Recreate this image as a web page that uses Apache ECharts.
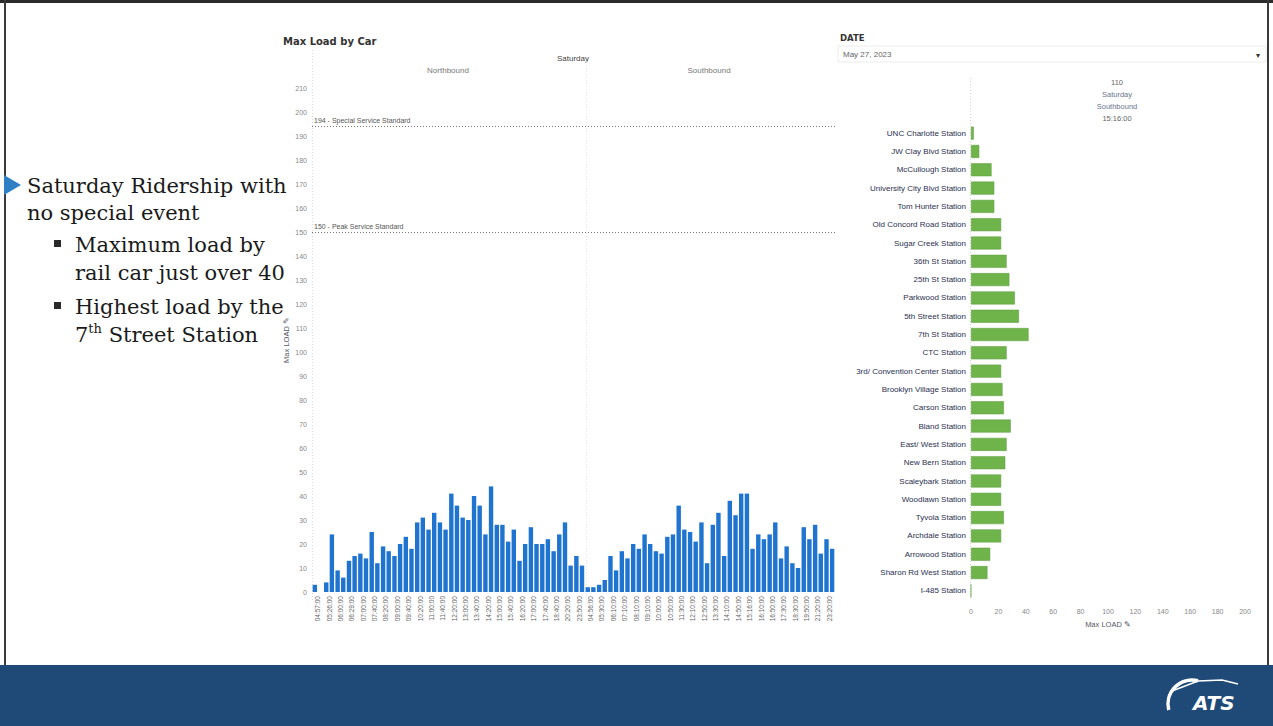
<!DOCTYPE html>
<html>
<head>
<meta charset="utf-8">
<script src="https://cdn.jsdelivr.net/npm/echarts@6.0.0/dist/echarts.min.js"></script>
<style>
html,body{margin:0;padding:0;background:#fff;}
#c{width:1273px;height:726px;}
</style>
</head>
<body>
<div id="c"></div>
<script>
// Trip start times, per direction
const northTimes = ['04:57:00','05:26:00','06:00:00','06:29:00','07:00:00','07:40:00','08:20:00','09:00:00',
  '09:40:00','10:20:00','11:00:00','11:40:00','12:20:00','13:00:00','13:40:00','14:20:00',
  '15:00:00','15:40:00','16:20:00','17:00:00','17:40:00','18:40:00','20:20:00','23:50:00'];
const southTimes = ['04:56:00','05:30:00','06:10:00','07:10:00','08:10:00','09:10:00','10:00:00','10:50:00',
  '11:30:00','12:10:00','12:50:00','13:30:00','14:10:00','14:50:00','15:16:00','16:10:00',
  '16:50:00','17:30:00','18:30:00','19:50:00','21:20:00','23:20:00'];

// Max load of the two cars on each trip
const northCarA = [3,4,9,13,16,25,19,15,23,29,26,29,41,31,40,24,28,21,13,27,20,17,29,15];
const northCarB = [null,24,6,15,14,12,17,20,18,31,33,26,36,30,36,44,28,26,20,20,22,24,11,11];
const southCarA = [2,3,15,17,20,24,17,23,36,25,29,28,15,32,41,24,24,14,12,27,28,22];
const southCarB = [2,5,9,14,18,20,16,24,26,21,12,33,38,41,18,22,29,19,10,22,16,18];

// Service standards
const specialStandard = 194;
const peakStandard = 150;

// Station loads for train 110, Saturday southbound 15:16:00
const stations = ['UNC Charlotte Station','JW Clay Blvd Station','McCullough Station','University City Blvd Station',
  'Tom Hunter Station','Old Concord Road Station','Sugar Creek Station','36th St Station','25th St Station',
  'Parkwood Station','5th Street Station','7th St Station','CTC Station','3rd/ Convention Center Station',
  'Brooklyn Village Station','Carson Station','Bland Station','East/ West Station','New Bern Station',
  'Scaleybark Station','Woodlawn Station','Tyvola Station','Archdale Station','Arrowood Station',
  'Sharon Rd West Station','I-485 Station'];
const stationLoads = [2,6,15,17,17,22,22,26,28,32,35,42,26,22,23,24,29,26,25,22,22,24,22,14,12,0];

const categories = northTimes.concat(southTimes);
const carA = northCarA.concat(southCarA);
const carB = northCarB.concat(southCarB);

const chart = echarts.init(document.getElementById('c'), null, {renderer: 'svg'});

const serif = '"DejaVu Serif", "Liberation Serif", serif';
const sans = '"Liberation Sans", Arial, sans-serif';
const blue = '#1f74cf';
const green = '#6fb44b';

function txt(text, x, y, font, fill, align, extra) {
  return Object.assign({
    type: 'text', silent: true,
    style: { text: text, x: x, y: y, font: font, fill: fill,
             textAlign: align || 'left', textVerticalAlign: 'middle' }
  }, extra || {});
}

const graphics = [
  // slide frame
  {type: 'rect', shape: {x: 0, y: 0, width: 1273, height: 3}, style: {fill: '#2b2b2b'}, silent: true},
  {type: 'rect', shape: {x: 4, y: 0, width: 2, height: 666}, style: {fill: '#3a3a3a'}, silent: true},
  {type: 'rect', shape: {x: 1267, y: 0, width: 2, height: 666}, style: {fill: '#3a3a3a'}, silent: true},
  // bottom banner
  {type: 'rect', shape: {x: 0, y: 665, width: 1273, height: 61}, style: {fill: '#1f4a77'}, silent: true},
  // logo
  {type: 'arc', shape: {cx: 1192, cy: 704, r: 24, startAngle: Math.PI * 0.92, endAngle: Math.PI * 1.58},
   style: {stroke: '#ffffff', lineWidth: 3.5, fill: null}, silent: true},
  {type: 'polyline', shape: {points: [[1172, 691], [1198, 681], [1222, 680], [1238, 684]]},
   style: {stroke: '#ffffff', lineWidth: 1.6, fill: null}, silent: true},
  txt('ATS', 1193, 703, 'italic bold 20px "DejaVu Sans", sans-serif', '#ffffff', 'left'),

  // bullets
  {type: 'polygon', shape: {points: [[4, 175], [21, 185], [4, 195]]}, style: {fill: '#2f7fc4'}, silent: true},
  txt('Saturday Ridership with', 27, 186, '21px ' + serif, '#1a1a1a'),
  txt('no special event', 27, 213, '21px ' + serif, '#1a1a1a'),
  {type: 'rect', shape: {x: 54, y: 240, width: 7, height: 7}, style: {fill: '#2a2a2a'}, silent: true},
  txt('Maximum load by', 75, 245, '21px ' + serif, '#1a1a1a'),
  txt('rail car just over 40', 75, 273, '21px ' + serif, '#1a1a1a'),
  {type: 'rect', shape: {x: 54, y: 302, width: 7, height: 7}, style: {fill: '#2a2a2a'}, silent: true},
  txt('Highest load by the', 75, 307, '21px ' + serif, '#1a1a1a'),
  {type: 'text', silent: true, style: {
    text: '{a|7}{s|th}{a| Street Station}', x: 75, y: 335, textAlign: 'left', textVerticalAlign: 'middle',
    rich: {
      a: {font: '21px ' + serif, fill: '#1a1a1a', lineHeight: 26},
      s: {font: '13px ' + serif, fill: '#1a1a1a', verticalAlign: 'top', padding: [0, 0, 10, 0], lineHeight: 26}
    }
  }},

  // left chart titles
  txt('Max Load by Car', 283, 41, 'bold 10px "DejaVu Sans", sans-serif', '#333'),
  txt('Saturday', 573, 58, '8px ' + sans, '#444', 'center'),
  txt('Northbound', 448, 70, '8px ' + sans, '#777', 'center'),
  txt('Southbound', 709, 70, '8px ' + sans, '#777', 'center'),
  // pane borders
  {type: 'line', shape: {x1: 312.5, y1: 50, x2: 312.5, y2: 600}, style: {stroke: '#d8d8d8', lineWidth: 1, lineDash: [1, 2]}, silent: true},
  {type: 'line', shape: {x1: 586.5, y1: 62, x2: 586.5, y2: 600}, style: {stroke: '#e2e2e2', lineWidth: 1, lineDash: [1, 2]}, silent: true},

  // date filter
  txt('DATE', 840, 38, 'bold 8.5px "DejaVu Sans", sans-serif', '#333'),
  {type: 'rect', shape: {x: 838, y: 46, width: 428, height: 16}, style: {fill: 'none', stroke: '#ececec', lineWidth: 1}, silent: true},
  txt('May 27, 2023', 843, 54, '8px ' + sans, '#666'),
  txt('\u25BE', 1258, 55, '8px "DejaVu Sans", sans-serif', '#333', 'center'),

  // right chart header
  txt('110', 1117, 82, '7.5px ' + sans, '#666', 'center'),
  txt('Saturday', 1117, 94, '7.5px ' + sans, '#6b7590', 'center'),
  txt('Southbound', 1117, 106, '7.5px ' + sans, '#6b7590', 'center'),
  txt('15:16:00', 1117, 118, '7.5px ' + sans, '#666', 'center'),
  {type: 'line', shape: {x1: 970.5, y1: 78, x2: 970.5, y2: 600}, style: {stroke: '#d6d6d6', lineWidth: 1, lineDash: [1, 2]}, silent: true}
];

const option = {
  animation: false,
  backgroundColor: '#ffffff',
  textStyle: {fontFamily: sans},
  grid: [
    {left: 312, right: 438, top: 88, bottom: 134},
    {left: 971, right: 28, top: 124, bottom: 126}
  ],
  xAxis: [
    {
      type: 'category', gridIndex: 0, data: categories,
      axisLine: {show: false}, axisTick: {show: false},
      axisLabel: {rotate: 90, interval: 0, fontSize: 6.5, color: '#666', margin: 4}
    },
    {
      type: 'value', gridIndex: 1, min: 0, max: 200, interval: 20,
      splitLine: {show: false}, axisLine: {show: false}, axisTick: {show: false},
      axisLabel: {fontSize: 7, color: '#888', margin: 8},
      name: 'Max LOAD \u270E', nameLocation: 'middle', nameGap: 20,
      nameTextStyle: {fontSize: 7.5, color: '#556'}
    }
  ],
  yAxis: [
    {
      type: 'value', gridIndex: 0, min: 0, max: 210, interval: 10,
      splitLine: {show: false}, axisLine: {show: false}, axisTick: {show: false},
      axisLabel: {fontSize: 7, color: '#888', margin: 5},
      name: 'Max LOAD \u270E', nameLocation: 'middle', nameGap: 22,
      nameTextStyle: {fontSize: 7.5, color: '#556'}
    },
    {
      type: 'category', gridIndex: 1, data: stations, inverse: true,
      axisLine: {show: false}, axisTick: {show: false},
      axisLabel: {fontSize: 8, color: '#2a3050', margin: 5}
    }
  ],
  series: [
    {
      name: 'Car A', type: 'bar', xAxisIndex: 0, yAxisIndex: 0, data: carA,
      barWidth: 4.4, barGap: '28%', itemStyle: {color: blue},
      markLine: {
        silent: true, symbol: 'none',
        lineStyle: {color: '#777', type: [1, 2], width: 1},
        label: {position: 'insideStartTop', fontSize: 7, color: '#555', distance: [2, 2],
                formatter: p => p.name},
        data: [
          {yAxis: specialStandard, name: specialStandard + ' - Special Service Standard'},
          {yAxis: peakStandard, name: peakStandard + ' - Peak Service Standard'}
        ]
      }
    },
    {
      name: 'Car B', type: 'bar', xAxisIndex: 0, yAxisIndex: 0, data: carB,
      barWidth: 4.4, barGap: '28%', itemStyle: {color: blue}
    },
    {
      name: 'Station load', type: 'bar', xAxisIndex: 1, yAxisIndex: 1, data: stationLoads,
      barWidth: 13, itemStyle: {color: green, borderColor: '#5a9a3a', borderWidth: 0.5}
    }
  ],
  graphic: graphics
};

chart.setOption(option);
</script>
</body>
</html>
